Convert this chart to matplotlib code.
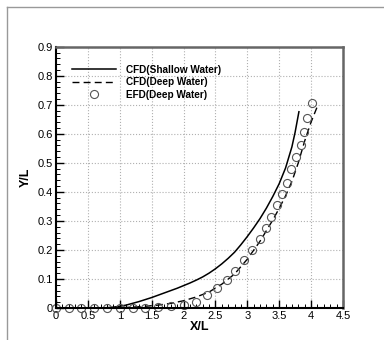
import numpy as np
import matplotlib.pyplot as plt
from matplotlib.lines import Line2D
from matplotlib.ticker import MultipleLocator

plt.rcParams['font.family'] = ['Liberation Sans', 'DejaVu Sans']

# CFD shallow water (solid)
x_shallow = [0.0, 0.5, 0.8, 0.9, 1.0, 1.1, 1.2, 1.3, 1.4, 1.5, 1.6, 1.7, 1.8, 1.9, 2.0,
             2.1, 2.2, 2.3, 2.4, 2.5, 2.6, 2.7, 2.8, 2.9, 3.0, 3.1, 3.2, 3.3, 3.4,
             3.5, 3.6, 3.7, 3.75, 3.81]
y_shallow = [0.0, 0.0, 0.001, 0.003, 0.006, 0.010, 0.016, 0.022, 0.029, 0.036, 0.044, 0.052,
             0.060, 0.068, 0.077, 0.086, 0.096, 0.107, 0.120, 0.135, 0.152, 0.171, 0.192,
             0.218, 0.246, 0.276, 0.308, 0.344, 0.384, 0.428, 0.482, 0.555, 0.605, 0.676]

# CFD deep water (dashed)
x_deep = [0.0, 0.8, 1.0, 1.2, 1.4, 1.6, 1.8, 2.0, 2.2, 2.4, 2.6, 2.8, 3.0, 3.2,
          3.4, 3.5, 3.6, 3.7, 3.8, 3.9, 4.0, 4.1]
y_deep = [0.0, 0.0, 0.001, 0.003, 0.006, 0.010, 0.016, 0.025, 0.038, 0.055, 0.082, 0.117,
          0.168, 0.230, 0.303, 0.343, 0.386, 0.436, 0.500, 0.575, 0.640, 0.695]

# EFD deep water (circles)
x_efd = [0.0, 0.2, 0.4, 0.6, 0.8, 1.0, 1.2, 1.4, 1.6, 1.8, 2.0, 2.2,
         2.37, 2.52, 2.68, 2.81, 2.95, 3.08, 3.2, 3.29, 3.37, 3.47, 3.54, 3.62,
         3.68, 3.76, 3.84, 3.89, 3.94, 4.02]
y_efd = [0.0, 0.0, 0.0, 0.0, 0.0, 0.0, 0.0, 0.001, 0.003, 0.006, 0.012, 0.022,
         0.045, 0.068, 0.096, 0.129, 0.165, 0.2, 0.237, 0.275, 0.315, 0.355, 0.393, 0.432,
         0.478, 0.519, 0.563, 0.607, 0.653, 0.705]

fig = plt.figure(figsize=(3.84, 3.40), dpi=100)
ax = fig.add_axes([0.1458, 0.0941, 0.7472, 0.7685])

ax.plot(x_shallow, y_shallow, color='black', lw=1.1, label='CFD(Shallow Water)')
ax.plot(x_deep, y_deep, color='black', lw=1.0, ls=(0, (5, 3)), label='CFD(Deep Water)')
ax.plot(x_efd, y_efd, ls='none', marker='o', ms=5.8, mfc='none', mec='#555555', mew=0.8,
        label='EFD(Deep Water)', clip_on=False)

ax.set_xlim(0, 4.5)
ax.set_ylim(0, 0.9)
ax.xaxis.set_minor_locator(MultipleLocator(0.1))
ax.yaxis.set_minor_locator(MultipleLocator(0.02))
ax.set_xticks(np.arange(0, 4.51, 0.5))
ax.set_xticklabels(['0', '0.5', '1', '1.5', '2', '2.5', '3', '3.5', '4', '4.5'])
ax.set_yticks(np.arange(0, 0.91, 0.1))
ax.set_yticklabels(['0', '0.1', '0.2', '0.3', '0.4', '0.5', '0.6', '0.7', '0.8', '0.9'])
ax.tick_params(which='major', direction='in', length=6, width=1.0, labelsize=8, pad=2)
ax.tick_params(which='minor', direction='in', length=3, width=0.7)
ax.grid(True, which='major', color='#b0b0b0', ls=':', lw=0.8)

for s in ['left', 'bottom']:
    ax.spines[s].set_linewidth(1.5)
for s in ['top', 'right']:
    ax.spines[s].set_color('#666666')
    ax.spines[s].set_linewidth(1.8)

ax.set_xlabel('X/L', fontsize=9, fontweight='bold', labelpad=0)
ax.set_ylabel('Y/L', fontsize=9, fontweight='bold', labelpad=4)

leg = ax.legend(loc='upper left', bbox_to_anchor=(0.025, 0.965), frameon=False,
                prop={'weight': 'bold', 'size': 7.2}, handlelength=4.4,
                handletextpad=1.0, labelspacing=0.25)

# outer frame of the cropped page
fig.add_artist(Line2D([7 / 384, 7 / 384], [0, 1 - 7 / 340], color='#999999', lw=1.0))
fig.add_artist(Line2D([7 / 384, 1], [1 - 7 / 340, 1 - 7 / 340], color='#999999', lw=1.0))

# caption text of the page above, cut off (only the descenders show)
fig.text(57 / 384, 1 + 5 / 340, 'trajectory at range Sea', family='Liberation Serif',
         fontsize=16, va='baseline', ha='left')

fig.savefig('out.png', dpi=100)
